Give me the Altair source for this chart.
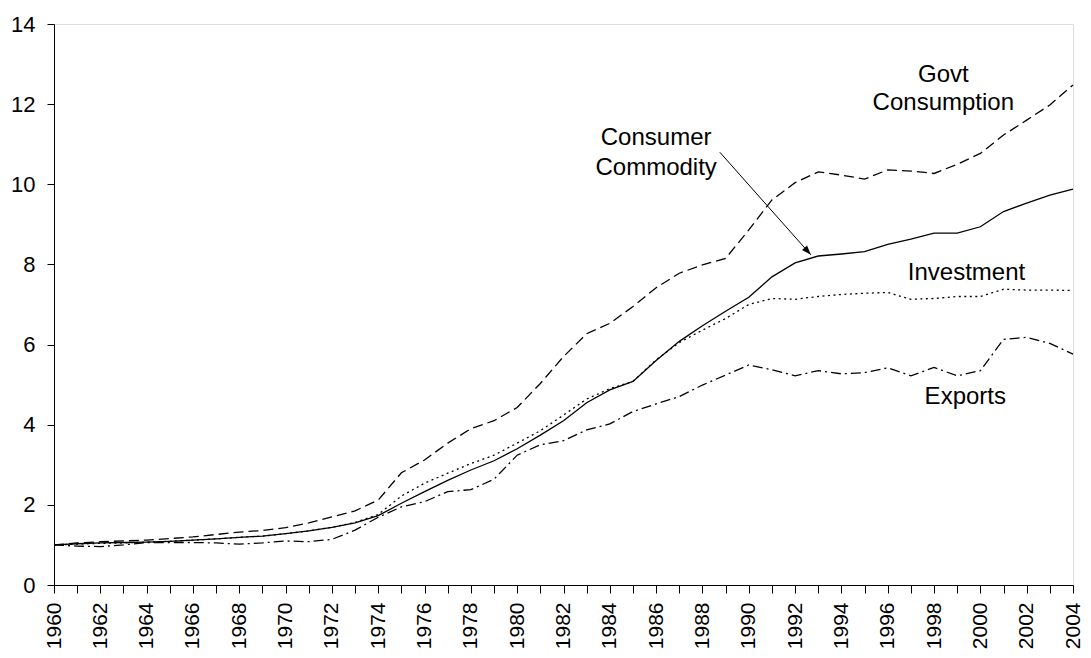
import altair as alt
import pandas as pd

years = list(range(1960, 2005))

consumer = [1.00, 1.03, 1.05, 1.06, 1.07, 1.09, 1.12, 1.15, 1.19, 1.22,
            1.28, 1.35, 1.44, 1.55, 1.73, 2.04, 2.33, 2.61, 2.87, 3.10,
            3.40, 3.74, 4.10, 4.55, 4.87, 5.08, 5.60, 6.08, 6.47, 6.83,
            7.18, 7.69, 8.04, 8.21, 8.26, 8.32, 8.50, 8.63, 8.78, 8.78,
            8.94, 9.32, 9.53, 9.73, 9.88]

govt = [1.00, 1.05, 1.08, 1.10, 1.12, 1.16, 1.20, 1.26, 1.32, 1.36,
        1.43, 1.55, 1.70, 1.85, 2.12, 2.80, 3.12, 3.54, 3.90, 4.10,
        4.43, 5.03, 5.70, 6.27, 6.53, 6.95, 7.42, 7.78, 7.99, 8.15,
        8.86, 9.61, 10.04, 10.31, 10.23, 10.13, 10.36, 10.33, 10.27, 10.50,
        10.77, 11.23, 11.60, 11.98, 12.48]

investment = [1.00, 1.02, 1.04, 1.05, 1.07, 1.09, 1.12, 1.15, 1.19, 1.22,
              1.28, 1.35, 1.44, 1.56, 1.76, 2.22, 2.54, 2.79, 3.03, 3.24,
              3.54, 3.85, 4.24, 4.64, 4.90, 5.08, 5.62, 6.05, 6.36, 6.65,
              7.00, 7.15, 7.13, 7.20, 7.25, 7.28, 7.30, 7.13, 7.15, 7.20,
              7.20, 7.38, 7.36, 7.36, 7.35]

exports = [1.00, 0.97, 0.96, 1.00, 1.06, 1.06, 1.06, 1.05, 1.02, 1.05,
           1.10, 1.08, 1.14, 1.37, 1.69, 1.95, 2.08, 2.33, 2.38, 2.64,
           3.24, 3.50, 3.60, 3.87, 4.02, 4.33, 4.52, 4.70, 4.99, 5.24,
           5.49, 5.37, 5.22, 5.35, 5.27, 5.30, 5.42, 5.22, 5.43, 5.22,
           5.35, 6.13, 6.18, 6.03, 5.76]

# annotation labels (data coordinates)
label_text = ["Govt", "Consumption", "Consumer", "Commodity", "Investment", "Exports"]
label_year = [1998.4, 1998.4, 1986.0, 1986.0, 1999.4, 1999.35]
label_value = [12.73, 12.03, 11.16, 10.41, 7.79, 4.69]

# arrow from label to consumer line
arrow_year = [1988.75]
arrow_value = [10.80]
arrow_year2 = [1992.68]
arrow_value2 = [8.24]

FONT = "Liberation Sans"

series = [
    ("Govt Consumption", govt, [10, 5]),
    ("Investment", investment, [2, 3.5]),
    ("Exports", exports, [10, 4, 2, 4]),
    ("Consumer Commodity", consumer, None),
]

x_scale = alt.Scale(domain=[1960, 2004], nice=False, zero=False)
y_scale = alt.Scale(domain=[0, 14], nice=False)

x_axis = alt.Axis(
    values=years, format="d", labelAngle=270, labelAlign="right",
    labelBaseline="middle", labelOverlap=False,
    labelExpr="datum.value % 2 == 0 ? datum.label : ''",
    labelFont=FONT, labelFontSize=21, labelColor="black", labelPadding=9,
    tickSize=8, tickColor="black", domainColor="black", grid=False, title=None,
)
y_axis = alt.Axis(
    values=list(range(0, 15, 2)), labelFont=FONT, labelFontSize=22,
    labelColor="black", labelPadding=12, tickSize=7, tickColor="black",
    domainColor="black", grid=False, title=None,
)

layers = []
for i, (name, vals, dash) in enumerate(series):
    df = pd.DataFrame({"year": years, "value": vals})
    kw = dict(color="black", strokeWidth=1.3)
    if dash:
        kw["strokeDash"] = dash
    layers.append(alt.Chart(df).mark_line(**kw).encode(
        x=alt.X("year:Q", scale=x_scale, axis=x_axis),
        y=alt.Y("value:Q", scale=y_scale, axis=y_axis),
    ))

labels_df = pd.DataFrame({"t": label_text, "year": label_year, "value": label_value})
labels = alt.Chart(labels_df).mark_text(
    font=FONT, fontSize=24, color="black", align="center", baseline="middle"
).encode(
    x=alt.X("year:Q", scale=x_scale, axis=x_axis),
    y=alt.Y("value:Q", scale=y_scale, axis=y_axis),
    text="t:N",
)

arrow_df = pd.DataFrame({"year": arrow_year, "value": arrow_value,
                         "year2": arrow_year2, "value2": arrow_value2})
arrow_line = alt.Chart(arrow_df).mark_rule(color="black", strokeWidth=1).encode(
    x=alt.X("year:Q", scale=x_scale, axis=x_axis),
    y=alt.Y("value:Q", scale=y_scale, axis=y_axis),
    x2="year2:Q",
    y2="value2:Q",
)
arrow_head = alt.Chart(arrow_df).mark_point(
    shape="M0,0 L-0.5,1.4 L0.5,1.4 Z", filled=True, color="black",
    opacity=1, size=180, angle=138,
).encode(
    x=alt.X("year2:Q", scale=x_scale, axis=x_axis),
    y=alt.Y("value2:Q", scale=y_scale, axis=y_axis),
)

chart = alt.layer(*layers, labels, arrow_line, arrow_head).properties(
    width=1019, height=561,
    autosize=alt.AutoSizeParams(type="none"),
    padding={"left": 46, "top": 16, "right": 10, "bottom": 65},
).configure_view(
    stroke="#808080", strokeWidth=1
).configure(background="white")

chart.save("out.html", embed_options={"renderer": "svg", "actions": False})
